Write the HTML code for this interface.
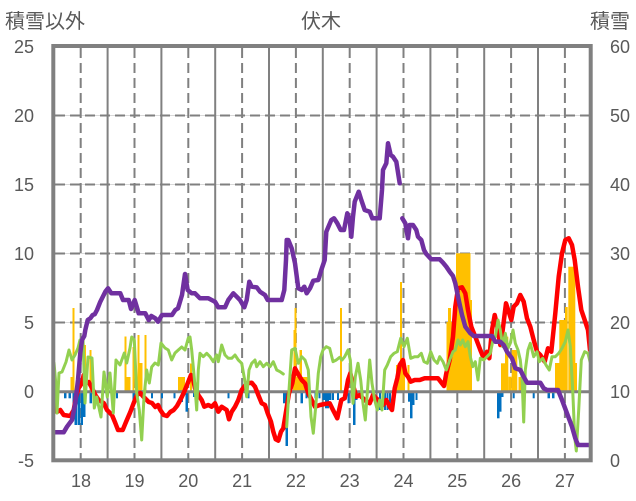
<!DOCTYPE html>
<html><head><meta charset="utf-8"><style>
html,body{margin:0;padding:0;background:#fff;}
svg{display:block;}
.t{font-family:"Liberation Sans",Arial,sans-serif;font-size:18px;fill:#595959;}
.j{font-family:"Liberation Sans","Noto Sans CJK JP",sans-serif;font-size:20px;fill:#595959;}
</style></head><body>
<svg width="636" height="501" viewBox="0 0 636 501" xmlns="http://www.w3.org/2000/svg">
<rect width="636" height="501" fill="#fff"/>
<g stroke="#D9D9D9" stroke-width="1">
<line x1="54" y1="115.5" x2="590" y2="115.5"/><line x1="54" y1="184.5" x2="590" y2="184.5"/>
<line x1="54" y1="253.5" x2="590" y2="253.5"/><line x1="54" y1="322.5" x2="590" y2="322.5"/>
</g>
<g stroke="#808080" stroke-width="2" stroke-dasharray="10,5">
<line x1="55" y1="115.5" x2="589" y2="115.5"/><line x1="55" y1="184.5" x2="589" y2="184.5"/>
<line x1="55" y1="253.5" x2="589" y2="253.5"/><line x1="55" y1="322.5" x2="589" y2="322.5"/>
<line x1="80.7" y1="48" x2="80.7" y2="459"/><line x1="134.5" y1="48" x2="134.5" y2="459"/>
<line x1="188.3" y1="48" x2="188.3" y2="459"/><line x1="242.1" y1="48" x2="242.1" y2="459"/>
<line x1="295.9" y1="48" x2="295.9" y2="459"/><line x1="349.7" y1="48" x2="349.7" y2="459"/>
<line x1="403.5" y1="48" x2="403.5" y2="459"/><line x1="457.3" y1="48" x2="457.3" y2="459"/>
<line x1="511.1" y1="48" x2="511.1" y2="459"/><line x1="564.9" y1="48" x2="564.9" y2="459"/>
</g>
<g stroke="#808080" stroke-width="2">
<line x1="107.6" y1="48" x2="107.6" y2="459"/><line x1="161.4" y1="48" x2="161.4" y2="459"/>
<line x1="215.2" y1="48" x2="215.2" y2="459"/><line x1="269" y1="48" x2="269" y2="459"/>
<line x1="322.8" y1="48" x2="322.8" y2="459"/><line x1="376.6" y1="48" x2="376.6" y2="459"/>
<line x1="430.4" y1="48" x2="430.4" y2="459"/><line x1="484.2" y1="48" x2="484.2" y2="459"/>
<line x1="538" y1="48" x2="538" y2="459"/>
</g>
<g fill="#FFC000">
<rect x="70.5" y="377" width="4" height="14.7"/>
<rect x="72.5" y="308" width="2" height="83.7"/>
<rect x="84" y="345" width="2" height="46.7"/>
<rect x="89.5" y="350" width="2" height="41.7"/>
<rect x="124.5" y="336.5" width="2" height="55.2"/>
<rect x="125" y="377" width="5.5" height="14.7"/>
<rect x="132.5" y="347" width="2" height="44.7"/>
<rect x="137.5" y="335" width="2" height="56.7"/>
<rect x="139.5" y="363" width="3" height="28.7"/>
<rect x="144.5" y="335" width="2" height="56.7"/>
<rect x="178" y="377" width="7" height="14.7"/>
<rect x="190" y="363.5" width="2" height="28.2"/>
<rect x="293" y="377" width="15" height="14.7"/>
<rect x="294.5" y="308" width="2" height="83.7"/>
<rect x="293.5" y="330" width="3" height="61.7"/>
<rect x="299.5" y="350" width="2.5" height="41.7"/>
<rect x="340" y="308" width="2" height="83.7"/>
<rect x="396" y="365" width="9" height="26.7"/>
<rect x="400" y="282" width="2" height="109.7"/>
<rect x="407.5" y="365" width="2" height="26.7"/>
<rect x="446.5" y="322" width="9.5" height="69.7"/>
<rect x="448" y="308" width="3" height="83.7"/>
<rect x="456" y="253.3" width="14.5" height="138.4"/>
<rect x="470" y="300" width="2" height="91.7"/>
<rect x="501" y="363.3" width="4" height="28.4"/>
<rect x="505" y="336.7" width="3.3" height="55"/>
<rect x="508.3" y="376.7" width="3.4" height="15"/>
<rect x="511.7" y="350" width="5.6" height="41.7"/>
<rect x="518.5" y="377" width="5" height="14.7"/>
<rect x="555" y="363" width="4.5" height="28.7"/>
<rect x="559.3" y="320" width="5.7" height="71.7"/>
<rect x="565" y="307" width="2.7" height="84.7"/>
<rect x="568.3" y="266.7" width="7" height="125"/>
<rect x="575" y="363" width="2" height="28.7"/>
</g>
<g fill="#0070C0">
<rect x="64" y="391" width="2.5" height="7.3"/>
<rect x="68.5" y="391" width="2.5" height="7.3"/>
<rect x="72.5" y="391" width="2.5" height="19"/>
<rect x="74.5" y="391" width="2.5" height="34"/>
<rect x="77.5" y="391" width="2.5" height="34"/>
<rect x="80.5" y="391" width="2.5" height="34"/>
<rect x="83" y="391" width="2.5" height="26"/>
<rect x="89.5" y="391" width="2.5" height="12.3"/>
<rect x="92.5" y="391" width="2.5" height="12.3"/>
<rect x="94.5" y="391" width="2" height="15"/>
<rect x="106" y="391" width="2" height="7.3"/>
<rect x="116" y="391" width="2" height="7.3"/>
<rect x="132.5" y="391" width="2.5" height="10"/>
<rect x="151" y="391" width="2" height="7.3"/>
<rect x="161" y="391" width="2" height="7.3"/>
<rect x="173.5" y="391" width="2" height="7.3"/>
<rect x="181" y="391" width="2" height="11"/>
<rect x="185.5" y="391" width="2.5" height="20.7"/>
<rect x="193" y="391" width="2" height="6"/>
<rect x="227.5" y="391" width="2" height="7.3"/>
<rect x="239.5" y="391" width="2" height="7.3"/>
<rect x="247.5" y="391" width="2" height="7.3"/>
<rect x="283" y="391" width="2.5" height="12.3"/>
<rect x="285.5" y="391" width="2.5" height="55"/>
<rect x="300.5" y="391" width="2.5" height="12.3"/>
<rect x="305.5" y="391" width="2" height="7.3"/>
<rect x="314.5" y="391" width="2" height="7.3"/>
<rect x="318.5" y="391" width="2" height="7.3"/>
<rect x="322.5" y="391" width="2.5" height="9"/>
<rect x="325" y="391" width="4" height="17.3"/>
<rect x="329" y="391" width="2.5" height="9"/>
<rect x="332" y="391" width="2" height="9"/>
<rect x="337" y="391" width="2" height="9"/>
<rect x="344" y="391" width="2" height="7.3"/>
<rect x="347.5" y="391" width="2" height="12.3"/>
<rect x="353" y="391" width="2.5" height="34"/>
<rect x="355.5" y="391" width="2" height="9"/>
<rect x="379" y="391" width="2" height="19"/>
<rect x="381.5" y="391" width="2" height="9"/>
<rect x="384" y="391" width="2" height="19"/>
<rect x="386.5" y="391" width="2" height="19"/>
<rect x="389" y="391" width="2" height="12"/>
<rect x="408" y="391" width="2" height="10.7"/>
<rect x="410" y="391" width="2.5" height="27.3"/>
<rect x="412.5" y="391" width="2" height="14"/>
<rect x="415.5" y="391" width="2" height="9"/>
<rect x="497" y="391" width="2.5" height="27.3"/>
<rect x="499.5" y="391" width="2" height="20.7"/>
<rect x="501.5" y="391" width="2" height="6"/>
<rect x="512.7" y="391" width="2" height="7.3"/>
<rect x="532.7" y="391" width="2" height="7.3"/>
<rect x="547.5" y="391" width="2.5" height="7.3"/>
<rect x="552" y="391" width="2.5" height="7.3"/>
</g>
<line x1="54" y1="391.7" x2="590" y2="391.7" stroke="#808080" stroke-width="3"/>
<polyline fill="none" stroke="#FF0000" stroke-width="4.5" stroke-linejoin="round" stroke-linecap="round" points="54,397 55.3,407 57,412 60.3,410 63.7,415 70.3,416 73.7,410 76,397 78.7,388 82,383 83.7,375 86,383 88.7,382 92,388 95.3,395 98.7,400 103.7,403 107,410 112,415 115.3,423 118,430 122.7,430 126,422 130.3,412 133.7,403 137,395 140.3,393 143.7,397 148.7,402 152,403 155.3,407 158,405 160.3,410 163.7,415 167,416 170.3,412 173.7,410 177,406 180.3,400 183.7,393 187,385 191,375 193.3,380 195,388.3 198.3,395 201.7,400 204.3,406.7 208.3,405 211.7,406.7 215,403.3 218.3,411.7 221.7,406.7 226.7,410 229,419.3 231.7,411.7 235,406.7 238.3,400 241.7,390 246.7,383.3 251.7,382.7 255,386.7 258.3,395 261.7,403.3 265,405 267.7,413.3 271,421.7 273.3,431.7 275.7,439.3 278.3,440.7 281,431.7 283.3,428.3 286,411.7 289,393.3 292.3,383.3 295,368.3 297.7,373.3 301.7,380 305,383.3 308.3,393.3 311.7,400 315,406.7 320,405 324.7,404 329.7,403.3 333,410 337.3,418.3 341.3,400 344.7,398.3 348,380 350.3,373.3 353,385 356.3,396.7 359.7,395 364.7,400 369.7,403.3 373,395 378,400 383,405 386.3,400 389.7,406.7 392,410 394.7,388.3 397.3,378.3 399.7,365 403,360 405.3,373.3 408,376.7 410.7,381.7 414.7,380 419.7,380 424.7,378.3 431.3,378.3 438,378.3 444,386 446.3,373.3 449.7,360 453,336.7 455.3,306.7 458,288.3 462,287.3 465.3,293.3 468,310 471.3,326.7 475.3,336.7 480.3,350 483.7,358.3 487,351.7 489.3,358.3 492,330 494.7,315 497,325 500.3,345 502.7,330 506,303.3 508.7,311.7 511.3,320 513.7,306.7 517,303.3 520.3,295 523.7,301.7 527,318.3 530.3,326.7 533.7,340 537,351.7 540.3,355 544.7,361.7 548,348.3 551.3,351.7 555.3,313.3 558.7,276.7 562,253.3 565.3,240 568.7,238.3 572,245 574.7,260 578,286.7 581.3,310 584.7,320 588,330 590,350"/>
<g fill="none" stroke="#92D050" stroke-width="3" stroke-linejoin="round" stroke-linecap="round">
<polyline points="54,363 55.5,380 57,413 59,373 62,372 66,362 69,350 72,360 75,355 78,348 80,340 83,338 85,403 88,357 92,358 94.3,408 96.7,397 101,417 104,372 107.3,397 110,373 113.3,413 116,360 120,365 124.3,353 126.7,363 130,348 131.7,337 134.3,340 136.7,393 139.3,410 141.7,440 144,397 146.7,370 149.3,383 151.7,367 155,363 158.3,365 161,343 165,348 168.3,350 171.7,360 175,353 178.3,350 181.7,347 185,350 188.3,338 190,337 191.7,350 194.3,378 196.7,410 198.3,370 200,353.3 203.3,356.7 206.7,353.3 210,356.7 213.3,361.7 216.7,355 218.3,361.7 221.7,345 225,355 228.3,358.3 231.7,358.3 235,355 238.3,360 241.7,363.3 245,381.7 246.7,396.7 249,370 251.7,363.3 255,360 256.7,366.7 260,361.7 263.3,366.7 266.7,363.3 270,366.7 273.3,361.7 276.7,370 280,371.7 283.3,374"/>
<polyline points="286.7,426.7 289,390 291.7,350 295,348.3 298.3,363.3 301.7,356.7 305,360 308.3,370 311,416.7 313.3,433.3 315.7,406.7 318.3,373.3 320.7,356.7 323,350 326.3,346.7 329.7,348.3 333,361.7 336.3,360 339.7,357.3 342,360 344.7,356.7 348,350 350.3,360 353,403.3 355.3,376.7 358,363.3 360.7,380 363,403.3 365.3,420 368,383.3 369.7,360 372,383.3 374.7,400 377.3,410 379.7,400 382,410 384.7,370 387.3,365 390.7,356.7 394,353.3 397.3,351.7 400.7,338.3 404,346.7 407.3,338.3 410.7,358.3 414.7,356.7 418,356.7 421.3,353.3 424,361.7 427.3,363.3 430.7,351.7 434,360 437.3,363.3 439.7,356.7 443,361.7 446.3,370 449.7,360 453,351.7 455.3,350 458,340 460.3,345 462.7,340 465.3,346.7 468,341.7 470.3,356.7 472.7,366.7 475.3,361.7 478,380 480.3,358.3 483.7,360 487,356.7 490.3,353.3 492.7,341.7 495.3,336.7 498,320 500.3,330 502.7,346.7 505.3,333.3 508,348.3 510.3,343.3 513,330 515.3,343.3 518,350 520.3,360 522,376.7 523.7,422 525.3,370 528,350 530.3,343.3 533.7,356.7 537,351.7 539.3,361.7 542.7,358.3 546,365 549.3,370 552,356.7 555.3,356.7 558.7,353.3 562,348.3 565.3,341.7 568,330 570.3,346.7 572.7,390 574.7,436.7 576.3,451 578.7,410 581.3,360 584.7,351.7 588,353.3 590,361.7"/>
</g>
<g fill="none" stroke="#7030A0" stroke-width="4.5" stroke-linejoin="round" stroke-linecap="round">
<polyline points="54,432.3 63.7,432.3 67,426.7 72,420 75.3,403 78,380 80.3,353 82,340 84.3,336 85.3,330 87.7,320 90.3,318.3 92.7,315 94.7,314.3 97,310 100.3,301.7 105.3,291.7 108,288.3 111.3,293.3 120.3,293.3 123,300 128.7,300 131,309 134.7,300 138.7,313.3 145.3,313.3 148.7,320 151.3,316 155.3,318.3 158,321.7 162,315 172,315 175.3,310 178,308.3 182,295 185,274 187.7,290 191.7,293.3 195,293.3 200,298.3 208.3,298.3 215,301.7 218.3,307.3 225,307.3 228.3,300 233.3,293.3 236.7,296.7 240,300 244.3,307.3 246.7,300 249.3,281.7 251.7,286.7 256.7,287.3 260,291.7 265,295 267.7,300 281.7,300 284.3,290 286,260 286.7,240 288.3,240 291.7,248.3 295,263.3 298.3,288.3 301.7,290 304.3,286.7 306.7,293.3 310,288.3 313.3,280.7 318.3,280 321.3,270 324.7,260 326.3,231.7 331.3,220 334,218.3 337.3,223.3 340.7,230 344,230 347.3,213.3 349.7,220 351.3,236.7 353,216.7 354.7,201.7 358.7,191.7 361.3,200 364.7,210 369.7,211.7 372.3,218.3 379.7,218.3 382,190 383,170 386.3,163.3 388,143.3 390.7,155 393,156.7 396.3,161.7 399.7,183.3"/>
<polyline points="402.3,218.3 405.3,223.3 408,238.3 409.7,225 413,225 416.3,230 418,236.7 421.3,240 424,250 426.3,254 431.3,259.3 439.7,259.3 443,262.7 446.3,266.7 449.7,271.7 453,276 455.3,283.3 458.7,300 462,315 465.3,326.7 470.3,333.3 473.7,336 492,336 495.3,341.7 500.3,341.7 503.7,345 507,351.7 512,358.3 515.3,368.3 520.3,370 523.7,376.7 527,382.7 540.3,382.7 543.7,388.3 547,390 558,390 562,400 567,413.3 572,426.7 575.3,438.3 578,445 589.3,445"/>
</g>
<rect x="53.3" y="46" width="537.4" height="414.3" fill="none" stroke="#808080" stroke-width="4"/>
<g class="t" text-anchor="end">
<text x="34" y="53">25</text><text x="34" y="122">20</text><text x="34" y="191">15</text>
<text x="34" y="260">10</text><text x="34" y="329">5</text><text x="34" y="398">0</text><text x="34" y="467">-5</text>
</g>
<g class="t" text-anchor="start">
<text x="610" y="53">60</text><text x="610" y="122">50</text><text x="610" y="191">40</text>
<text x="610" y="260">30</text><text x="610" y="329">20</text><text x="610" y="398">10</text><text x="610" y="467">0</text>
</g>
<g class="t" text-anchor="middle">
<text x="81" y="487">18</text><text x="134.5" y="487">19</text><text x="188.3" y="487">20</text>
<text x="242.1" y="487">21</text><text x="295.9" y="487">22</text><text x="349.7" y="487">23</text>
<text x="403.5" y="487">24</text><text x="457.3" y="487">25</text><text x="511.1" y="487">26</text>
<text x="564.9" y="487">27</text>
</g>
<text class="j" x="5" y="28">積雪以外</text>
<text class="j" x="301" y="28">伏木</text>
<text class="j" x="590" y="28">積雪</text>
</svg>
</body></html>
